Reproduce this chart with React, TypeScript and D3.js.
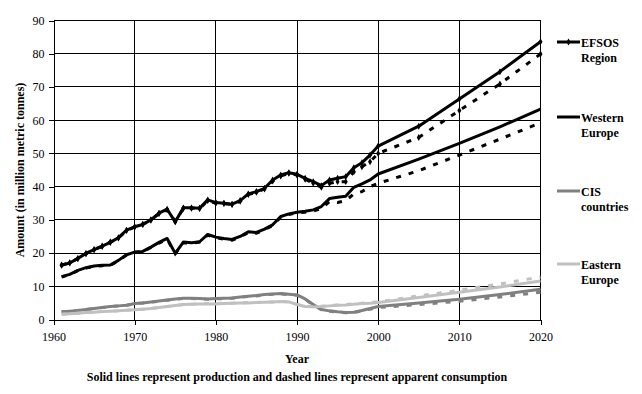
import React, { useEffect, useRef } from 'react';
import * as d3 from 'd3';

// historical years 1961-2000, projections 2000-2020 every five years
const histYears = d3.range(1961, 2001);
const projYears = [2000, 2005, 2010, 2015, 2020];

const efsosProdHist = [
  16.4, 17.0, 18.4, 19.9, 21.0, 22.1, 23.2, 24.6, 26.9, 27.9,
  28.6, 30.0, 32.0, 33.2, 29.4, 33.6, 33.6, 33.5, 36.0, 35.2,
  35.0, 34.7, 35.8, 37.8, 38.5, 39.5, 42.0, 43.5, 44.2, 43.7,
  42.5, 41.5, 40.3, 42.0, 42.5, 43.0, 45.7, 47.2, 49.5, 52.2,
];
const efsosConsHist = [
  16.3, 17.1, 18.3, 19.8, 21.1, 22.0, 23.3, 24.5, 26.8, 27.8,
  28.7, 29.9, 31.9, 33.0, 29.5, 33.4, 33.5, 33.4, 35.8, 35.0,
  34.9, 34.6, 35.6, 37.6, 38.3, 39.3, 41.7, 43.2, 44.0, 43.5,
  42.2, 41.0, 39.8, 41.0, 41.5, 41.5, 44.5, 46.0, 47.5, 50.0,
];
const efsosProdProj = [52.2, 58.2, 66.4, 74.6, 83.6];
const efsosConsProj = [50.0, 54.8, 62.9, 70.9, 79.9];

const weProdHist = [
  12.9, 13.6, 14.8, 15.6, 16.1, 16.3, 16.4, 17.8, 19.5, 20.3,
  20.5, 21.8, 23.2, 24.4, 19.9, 23.3, 23.1, 23.4, 25.6, 24.8,
  24.4, 24.1, 25.0, 26.4, 26.2, 27.2, 28.5, 31.0, 31.8, 32.3,
  32.6, 33.0, 34.0, 36.4, 36.8, 37.1, 39.8, 40.8, 42.0, 43.8,
];
const weConsHist = [
  12.8, 13.5, 14.7, 15.5, 16.0, 16.2, 16.3, 17.7, 19.4, 20.2,
  20.4, 21.7, 23.0, 24.2, 19.8, 23.1, 23.0, 23.3, 25.4, 24.6,
  24.2, 23.9, 24.8, 26.2, 26.0, 27.0, 28.3, 30.8, 31.6, 32.1,
  32.3, 32.6, 33.4, 35.5, 35.2, 35.8, 37.8, 38.5, 40.0, 41.0,
];
const weProdProj = [43.8, 48.3, 53.0, 58.0, 63.3];
const weConsProj = [41.0, 44.8, 49.5, 54.3, 59.2];

const cisProdHist = [
  2.3, 2.5, 2.7, 3.0, 3.3, 3.6, 3.9, 4.1, 4.3, 4.8,
  5.0, 5.3, 5.6, 5.9, 6.2, 6.4, 6.4, 6.3, 6.2, 6.3,
  6.4, 6.5, 6.8, 7.0, 7.2, 7.5, 7.7, 7.8, 7.6, 7.4,
  6.2, 4.5, 3.0, 2.6, 2.3, 2.1, 2.2, 2.7, 3.3, 3.9,
];
const cisConsHist = [
  2.3, 2.5, 2.7, 3.0, 3.3, 3.6, 3.9, 4.1, 4.3, 4.7,
  5.0, 5.2, 5.5, 5.8, 6.1, 6.3, 6.3, 6.2, 6.1, 6.2,
  6.3, 6.4, 6.7, 6.9, 7.1, 7.4, 7.6, 7.7, 7.5, 7.3,
  6.1, 4.4, 2.9, 2.5, 2.2, 2.0, 2.1, 2.6, 3.1, 3.6,
];
const cisProdProj = [3.9, 5.0, 6.1, 7.5, 9.1];
const cisConsProj = [3.6, 4.5, 5.5, 6.8, 8.2];

const eeProdHist = [
  1.6, 1.7, 1.9, 2.1, 2.2, 2.4, 2.5, 2.6, 2.8, 2.9,
  3.1, 3.3, 3.6, 3.9, 4.2, 4.5, 4.6, 4.7, 4.7, 4.7,
  4.8, 4.9, 5.0, 5.0, 5.1, 5.2, 5.3, 5.4, 5.3, 4.5,
  3.9, 3.8, 3.9, 4.1, 4.3, 4.4, 4.6, 4.8, 4.9, 5.1,
];
const eeConsHist = [
  1.6, 1.7, 1.9, 2.1, 2.2, 2.4, 2.5, 2.6, 2.8, 3.0,
  3.1, 3.3, 3.6, 3.9, 4.2, 4.5, 4.6, 4.7, 4.8, 4.8,
  4.9, 4.9, 5.0, 5.1, 5.1, 5.2, 5.3, 5.4, 5.3, 4.6,
  4.0, 3.9, 4.0, 4.2, 4.4, 4.5, 4.7, 4.9, 5.1, 5.3,
];
const eeProdProj = [5.1, 6.6, 8.2, 9.8, 11.6];
const eeConsProj = [5.3, 7.1, 8.8, 10.7, 12.8];

const yTicks = [0, 10, 20, 30, 40, 50, 60, 70, 80, 90];
const xTicks = [1960, 1970, 1980, 1990, 2000, 2010, 2020];

const series = [
  { name: ['CIS', 'countries'], color: '#808080', marker: false, prod: [cisProdHist, cisProdProj], cons: [cisConsHist, cisConsProj], legendY: 191 },
  { name: ['Eastern', 'Europe'], color: '#c0c0c0', marker: false, prod: [eeProdHist, eeProdProj], cons: [eeConsHist, eeConsProj], legendY: 264 },
  { name: ['Western', 'Europe'], color: '#000000', marker: false, prod: [weProdHist, weProdProj], cons: [weConsHist, weConsProj], legendY: 117 },
  { name: ['EFSOS', 'Region'], color: '#000000', marker: true, prod: [efsosProdHist, efsosProdProj], cons: [efsosConsHist, efsosConsProj], legendY: 42 },
];

const FONT = '"Liberation Serif", "Times New Roman", serif';

function toPoints(hist: number[], proj: number[]) {
  const pts = histYears.map((yr, i) => [yr, hist[i]] as [number, number]);
  projYears.slice(1).forEach((yr, i) => pts.push([yr, proj[i + 1]]));
  return pts;
}

export default function App() {
  const ref = useRef<SVGSVGElement>(null);

  useEffect(() => {
    const svg = d3.select(ref.current);
    svg.selectAll('*').remove();

    const x = d3.scaleLinear().domain([1960, 2020]).range([53.5, 540.5]);
    const y = d3.scaleLinear().domain([0, 90]).range([319.5, 20.5]);
    const px = (v: number) => Math.round(x(v) - 0.5) + 0.5;
    const py = (v: number) => Math.round(y(v) - 0.5) + 0.5;

    // grid
    const grid = svg.append('g').attr('stroke', '#000').attr('stroke-width', 1).attr('shape-rendering', 'crispEdges');
    yTicks.slice(1).forEach((t) => {
      grid.append('line')
        .attr('x1', px(1960)).attr('x2', px(2020))
        .attr('y1', py(t)).attr('y2', py(t));
    });
    xTicks.slice(1).forEach((t) => {
      grid.append('line')
        .attr('x1', px(t)).attr('x2', px(t))
        .attr('y1', py(0)).attr('y2', py(90));
    });

    // axes
    const yAxis = d3.axisLeft(y).tickValues(yTicks).tickSize(5).tickSizeOuter(0).tickPadding(4).tickFormat(d3.format('d'));
    const xAxis = d3.axisBottom(x).tickValues(xTicks).tickSize(5).tickSizeOuter(0).tickPadding(8).tickFormat(d3.format('d'));

    const ya = svg.append('g').attr('transform', `translate(${x(1960)},0)`).call(yAxis);
    const xa = svg.append('g').attr('transform', `translate(0,${y(0)})`).call(xAxis);
    [ya, xa].forEach((a) => {
      a.selectAll('path, line').attr('stroke', '#000').attr('shape-rendering', 'crispEdges');
      a.selectAll('text').attr('fill', '#000').style('font-family', FONT).style('font-size', '12px');
    });

    const line = d3.line<[number, number]>()
      .x((d) => x(d[0]))
      .y((d) => y(d[1]));

    const plot = svg.append('g');
    series.forEach((s) => {
      const prod = toPoints(s.prod[0], s.prod[1]);
      const cons = toPoints(s.cons[0], s.cons[1]);
      plot.append('path')
        .attr('d', line(cons))
        .attr('fill', 'none')
        .attr('stroke', s.color)
        .attr('stroke-width', 3)
        .attr('stroke-dasharray', '5,8');
      plot.append('path')
        .attr('d', line(prod))
        .attr('fill', 'none')
        .attr('stroke', s.color)
        .attr('stroke-width', 3)
        .attr('stroke-linejoin', 'round');
      if (s.marker) {
        const sym = d3.symbol(d3.symbolDiamond, 14);
        [prod, cons].forEach((pts) => {
          plot.selectAll(null)
            .data(pts)
            .enter()
            .append('path')
            .attr('d', sym)
            .attr('transform', (d) => `translate(${x(d[0])},${y(d[1])})`)
            .attr('fill', s.color);
        });
      }
    });

    // legend
    const legend = svg.append('g');
    series.forEach((s) => {
      legend.append('line')
        .attr('x1', 557).attr('x2', 580)
        .attr('y1', s.legendY).attr('y2', s.legendY)
        .attr('stroke', s.color).attr('stroke-width', 3);
      if (s.marker) {
        legend.append('path')
          .attr('d', d3.symbol(d3.symbolDiamond, 14))
          .attr('transform', `translate(568.5,${s.legendY})`)
          .attr('fill', s.color);
      }
      s.name.forEach((t, i) => {
        legend.append('text')
          .attr('x', 581)
          .attr('y', s.legendY + 4.5 + i * 15)
          .style('font-family', FONT)
          .style('font-size', '12px')
          .style('font-weight', 'bold')
          .text(t);
      });
    });

    // titles
    svg.append('text')
      .attr('transform', 'translate(20,170) rotate(-90)')
      .attr('text-anchor', 'middle')
      .attr('dy', '0.35em')
      .style('font-family', FONT).style('font-size', '12px').style('font-weight', 'bold')
      .text('Amount (in million metric tonnes)');
    svg.append('text')
      .attr('x', 297).attr('y', 363)
      .attr('text-anchor', 'middle')
      .style('font-family', FONT).style('font-size', '12px').style('font-weight', 'bold')
      .text('Year');
    svg.append('text')
      .attr('x', 297).attr('y', 381)
      .attr('text-anchor', 'middle')
      .style('font-family', FONT).style('font-size', '12px').style('font-weight', 'bold')
      .text('Solid lines represent production and dashed lines represent apparent consumption');
  }, []);

  return (
    <svg
      ref={ref}
      width={642}
      height={394}
      style={{ position: 'absolute', left: 0, top: 0, background: '#fff' }}
    />
  );
}
